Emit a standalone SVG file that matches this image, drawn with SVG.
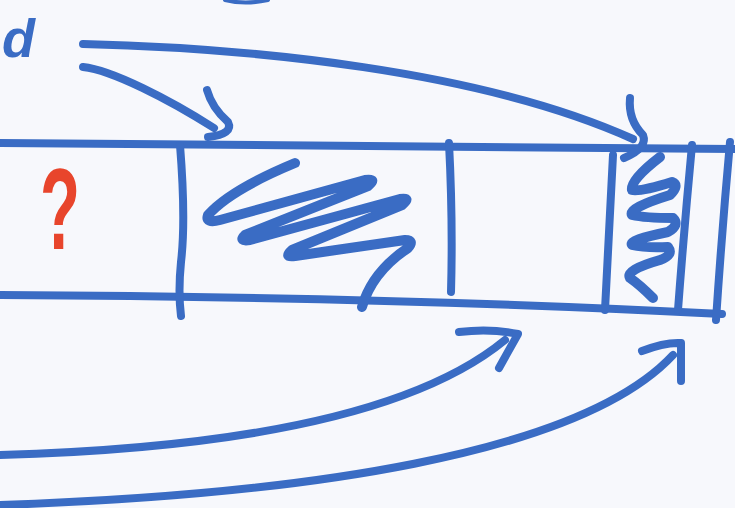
<svg xmlns="http://www.w3.org/2000/svg" width="735" height="508" viewBox="0 0 735 508">
<style>
.ink{fill:none;stroke:#3a6cc4;stroke-linecap:round;stroke-linejoin:round}
.line{stroke-width:8}
.arr{stroke-width:8}
.scr{stroke-width:10}
.red{fill:#e8452c;font-family:"Liberation Sans",Arial,sans-serif}
.blue{fill:#3a6cc4;font-family:"Liberation Sans",Arial,sans-serif}
</style>
<rect width="735" height="508" fill="#f7f8fc"/>
<g id="frame">
<path class="ink line" d="M0,143 Q370,145 735,149"/>
<path class="ink line" d="M0,295 Q400,297 722,314"/>
<path class="ink" stroke-width="4" d="M225,0 Q245,5 268,0"/>
</g>
<g id="cell-label">
<text class="red" transform="translate(40,249) scale(0.57,1)" font-size="115" font-weight="bold">?</text>
</g>
<g id="cell-1">
<path class="ink line" d="M180,145 Q186,220 181,262 Q178,292 181,316"/>
</g>
<g id="cell-2">
<path class="ink line" d="M449,143 Q453,220 451,292"/>
<path class="ink scr" d="M295,163 Q230,190 208,215 Q205,224 220,220 L365,180 Q378,178 368,186 L245,235 Q238,242 250,240 L400,199 Q412,197 402,205 L292,250 Q283,258 295,256 L405,240 Q415,240 408,248 Q372,272 362,307"/>
</g>
<g id="cell-3">
<path class="ink line" d="M613,155 Q609,230 605,310"/>
<path class="ink scr" d="M660,157 Q630,180 632,190 Q640,192 672,182 Q680,185 670,195 Q628,208 632,215 Q645,218 673,218 Q680,225 668,232 Q628,240 632,245 Q645,248 668,247 Q674,255 660,260 Q625,270 630,278 Q640,285 653,298"/>
</g>
<g id="cell-4">
<path class="ink line" d="M692,145 Q684,230 678,310"/>
</g>
<g id="cell-5">
<path class="ink line" d="M730,142 Q722,230 716,320"/>
</g>
<g id="source">
<text class="blue" x="2" y="57" font-size="54" font-weight="bold" font-style="italic">d</text>
</g>
<g id="connectors">
<path class="ink arr" d="M83,67 C112,70 170,100 214,128"/>
<path class="ink arr" d="M207,90 Q212,108 228,122 Q234,134 208,137"/>
<path class="ink arr" d="M83,44 C250,48 480,70 633,139"/>
<path class="ink arr" d="M630,98 Q628,120 643,135 Q648,148 624,158"/>
<path class="ink arr" d="M0,455 C250,448 420,410 505,340"/>
<path class="ink arr" d="M459,332 Q490,328 518,334 L499,368"/>
<path class="ink arr" d="M0,505 C300,495 580,455 673,355"/>
<path class="ink arr" d="M642,351 Q665,342 681,343 L681,381"/>
</g>
</svg>
